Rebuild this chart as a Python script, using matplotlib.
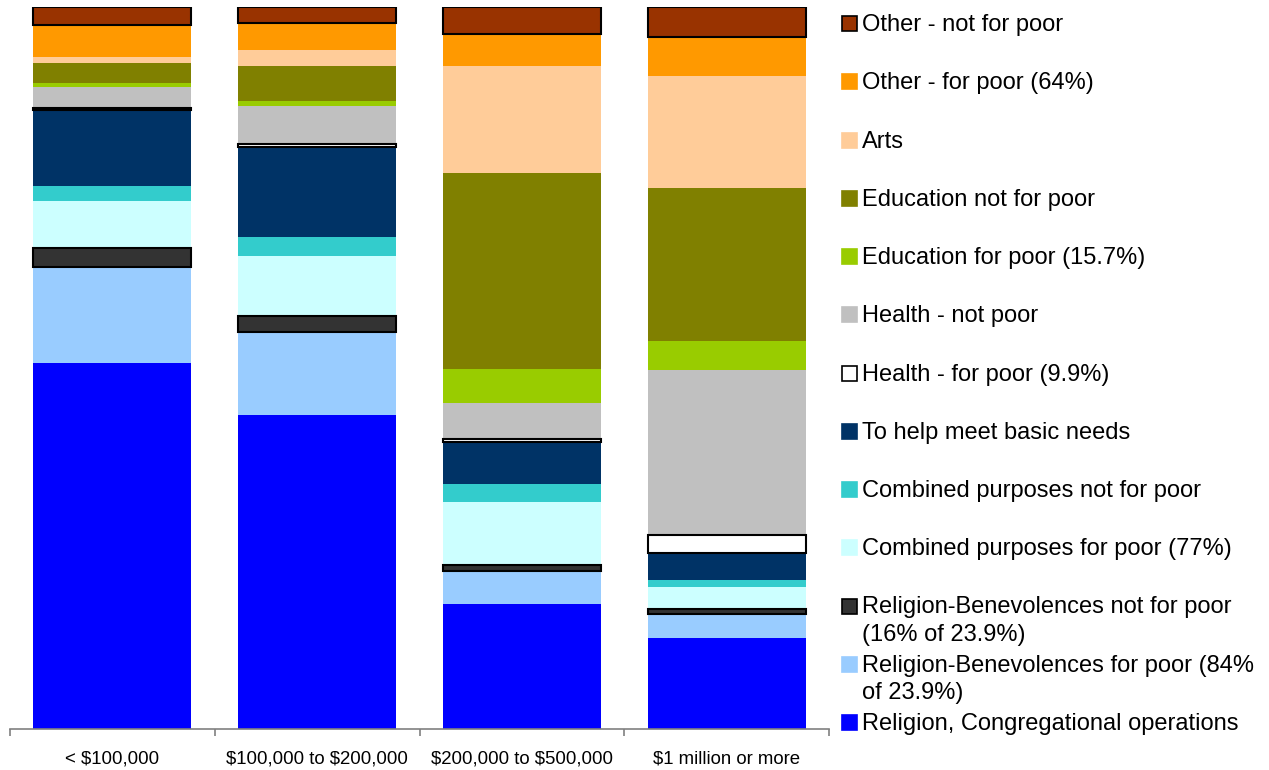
import numpy as np
import matplotlib.pyplot as plt
from matplotlib.patches import Rectangle

plt.rcParams['font.family'] = ['Liberation Sans', 'DejaVu Sans']
plt.rcParams['text.parse_math'] = False

groups = ["< $100,000", "$100,000 to $200,000", "$200,000 to $500,000", "$1 million or more"]

# series listed bottom to top of the stack (percent of giving)
congregational = [50.7, 43.5, 17.3, 12.6]
benev_poor = [13.3, 11.5, 4.6, 3.4]
benev_not_poor = [2.6, 2.2, 0.8, 0.6]
combined_poor = [6.5, 8.3, 8.7, 3.1]
combined_not_poor = [2.1, 2.6, 2.5, 1.0]
basic_needs = [10.4, 12.4, 5.9, 3.7]
health_poor = [0.3, 0.45, 0.4, 2.5]
health_not_poor = [2.95, 5.2, 4.9, 22.8]
edu_poor = [0.55, 0.8, 4.8, 4.0]
edu_not_poor = [2.7, 4.8, 27.0, 21.2]
arts = [0.9, 2.2, 14.8, 15.4]
other_poor = [4.4, 3.8, 4.5, 5.4]
other_not_poor = [2.5, 2.2, 3.7, 4.2]

series = [
    ("Religion, Congregational operations", congregational, "#0000FF", False),
    ("Religion-Benevolences for poor (84%\nof 23.9%)", benev_poor, "#99CCFF", False),
    ("Religion-Benevolences not for poor\n(16% of 23.9%)", benev_not_poor, "#333333", True),
    ("Combined purposes for poor (77%)", combined_poor, "#CCFFFF", False),
    ("Combined purposes not for poor", combined_not_poor, "#33CCCC", False),
    ("To help meet basic needs", basic_needs, "#003366", False),
    ("Health - for poor (9.9%)", health_poor, "#FFFFFF", True),
    ("Health - not poor", health_not_poor, "#C0C0C0", False),
    ("Education for poor (15.7%)", edu_poor, "#99CC00", False),
    ("Education not for poor", edu_not_poor, "#808000", False),
    ("Arts", arts, "#FFCC99", False),
    ("Other - for poor (64%)", other_poor, "#FF9900", False),
    ("Other - not for poor", other_not_poor, "#993300", True),
]

W, H = 1269, 770
fig = plt.figure(figsize=(W / 100, H / 100), dpi=100)
ax = fig.add_axes([10 / W, 1 - 729.3 / H, 819 / W, 722.6 / H])

x = np.arange(len(groups))
bottom = np.zeros(len(groups))
for label, vals, color, edged in series:
    vals = np.array(vals)
    if edged:
        ax.bar(x, vals, 0.772, bottom=bottom, color=color, edgecolor="black", linewidth=1.5, zorder=3)
    else:
        ax.bar(x, vals, 0.772, bottom=bottom, color=color, linewidth=0, zorder=2)
    bottom += vals

# normalise to the stacked total so each bar fills the axis
ax.set_ylim(0, bottom.max())
ax.set_xlim(-0.5, len(groups) - 0.5)

for side in ["left", "right", "top"]:
    ax.spines[side].set_visible(False)
ax.spines["bottom"].set_color("#808080")
ax.spines["bottom"].set_linewidth(1.2)
ax.set_yticks([])
ax.set_xticks(np.arange(len(groups) + 1) - 0.5)
ax.set_xticklabels([])
ax.set_xticks(x, minor=True)
ax.set_xticklabels(groups, minor=True, fontsize=13.4)
ax.tick_params(axis="x", which="major", direction="out", length=5, color="#808080", width=1.2)
ax.tick_params(axis="x", which="minor", length=0, pad=15)

# legend, top entry first
for i, (label, vals, color, edged) in enumerate(reversed(series)):
    yc = 23 + 58.25 * i
    fig.patches.append(Rectangle((842 / W, 1 - (yc + 8) / H), 15 / W, 15 / H,
                                 transform=fig.transFigure, facecolor=color,
                                 edgecolor="black" if edged else color, linewidth=1.2))
    first, *rest = label.split("\n")
    fig.text(862 / W, 1 - (yc + 2) / H, first, fontsize=17, va="center", ha="left")
    for j, line in enumerate(rest):
        fig.text(862 / W, 1 - (yc + 2 + 27 * (j + 1)) / H, line, fontsize=17, va="center", ha="left")

fig.savefig("out.png", dpi=100)
